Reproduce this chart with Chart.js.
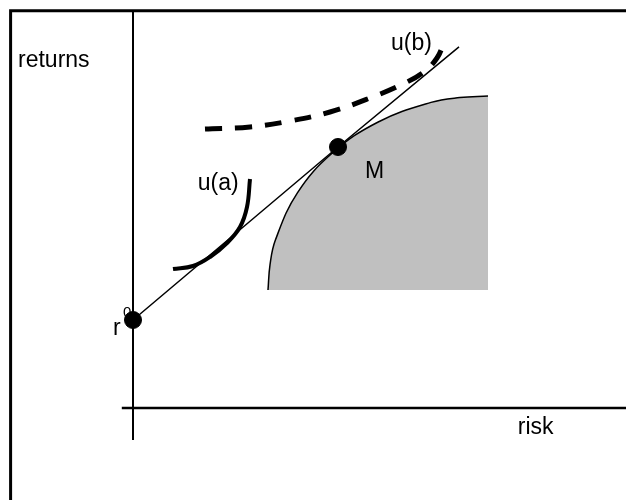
<!DOCTYPE html>
<html>
<head>
<meta charset="utf-8">
<script src="https://cdn.jsdelivr.net/npm/chart.js@4/dist/chart.umd.min.js"></script>
<style>
  body{margin:0;background:#fff;}
  canvas{display:block;}
</style>
</head>
<body>
<canvas id="myChart" width="626" height="500"></canvas>
<script>
/**
 * values (risk on x, returns on y, axes cross at 0,0)
 */
var frameRisk    = [-3.06, -3.06, 12.4];
var frameReturns = [-2.5, 9.93, 9.93];

var axisYRisk    = [0, 0];
var axisYReturns = [9.9, -0.8];
var axisXRisk    = [-0.28, 12.4];
var axisXReturns = [0, 0];

// efficient frontier (upper edge of the grey set)
var frontierRisk    = [3.375, 3.425, 3.56, 4.11, 4.99, 6.13, 7.45, 8.17, 8.875];
var frontierReturns = [2.95, 3.58, 4.2, 5.38, 6.38, 7.15, 7.64, 7.76, 7.8];
var frontierFloor   = 2.95;

// capital market line r0 -> M -> beyond
var cmlRisk    = [0, 5.125, 8.15];
var cmlReturns = [2.2, 6.525, 9.03];

// indifference curves
var uaRisk    = [1.0, 1.5, 1.925, 2.35, 2.675, 2.85, 2.925];
var uaReturns = [3.475, 3.55, 3.775, 4.125, 4.525, 5.025, 5.725];
var ubRisk    = [1.8, 2.925, 3.925, 4.925, 5.925, 6.8, 7.3, 7.6, 7.775];
var ubReturns = [6.975, 7.025, 7.175, 7.4, 7.75, 8.125, 8.425, 8.75, 9.125];

// the two marked points: r0 and M
var dotRisk    = [0, 5.125];
var dotReturns = [2.2, 6.525];

// text labels
var labelText = ["returns", "u(b)", "u(a)", "M", "r", "0", "risk"];
//

function pts(xs, ys){
    var out = [];
    for(var i = 0; i < xs.length; i++)
        out.push({x: xs[i], y: ys[i]});
    return out;
}

// where the labels go (left edge / baseline, in chart units) and font size
var labelSpots = [
    [-2.875, 8.525, 23],
    [6.45, 8.95, 23],
    [1.62, 5.45, 23],
    [5.8, 5.75, 23],
    [-0.5, 1.83, 23],
    [-0.25, 2.28, 15],
    [9.62, -0.65, 23]
];

var labelPlugin = {
    id: "labels",
    afterDraw: function(chart){
        var c = chart.ctx;
        var sx = chart.scales.x, sy = chart.scales.y;
        c.save();
        c.fillStyle = "#000";
        c.textBaseline = "alphabetic";
        for(var i = 0; i < labelText.length; i++){
            c.font = labelSpots[i][2] + "px 'Liberation Sans', Arial, sans-serif";
            c.fillText(labelText[i], sx.getPixelForValue(labelSpots[i][0]), sy.getPixelForValue(labelSpots[i][1]));
        }
        c.restore();
    }
};

var ctx = document.getElementById("myChart");

var data = {
    datasets: [
        {
            data: pts(dotRisk, dotReturns),
            showLine: false,
            pointRadius: 8.5,
            pointBackgroundColor: "#000",
            pointBorderColor: "#000",
            clip: false,
            order: 1
        },
        {
            data: pts(ubRisk, ubReturns),
            showLine: true,
            borderColor: "#000",
            borderWidth: 5,
            borderDash: [17, 13],
            borderCapStyle: "butt",
            tension: 0.4,
            pointRadius: 0,
            order: 2
        },
        {
            data: pts(uaRisk, uaReturns),
            showLine: true,
            borderColor: "#000",
            borderWidth: 4,
            tension: 0.4,
            pointRadius: 0,
            order: 3
        },
        {
            data: pts(cmlRisk, cmlReturns),
            showLine: true,
            borderColor: "#000",
            borderWidth: 1.5,
            tension: 0,
            pointRadius: 0,
            order: 4
        },
        {
            data: pts(axisYRisk, axisYReturns),
            showLine: true,
            borderColor: "#000",
            borderWidth: 2,
            pointRadius: 0,
            order: 6
        },
        {
            data: pts(axisXRisk, axisXReturns),
            showLine: true,
            borderColor: "#000",
            borderWidth: 2.5,
            pointRadius: 0,
            clip: false,
            order: 6
        },
        {
            data: pts(frameRisk, frameReturns),
            showLine: true,
            borderColor: "#000",
            borderWidth: 3,
            pointRadius: 0,
            clip: false,
            order: 7
        },
        {
            data: pts(frontierRisk, frontierReturns),
            showLine: true,
            borderColor: "#000",
            borderWidth: 1.5,
            backgroundColor: "#c0c0c0",
            fill: {value: frontierFloor},
            tension: 0.4,
            pointRadius: 0,
            order: 10
        }
    ]
};

var myChart = new Chart(ctx, {
    type: "scatter",
    data: data,
    plugins: [labelPlugin],
    options: {
        responsive: false,
        animation: false,
        layout: {padding: 0, autoPadding: false},
        plugins: {legend: {display: false}, tooltip: {enabled: false}},
        scales: {
            x: {type: "linear", min: -3.325, max: 12.325, display: false},
            y: {type: "linear", min: -2.3, max: 10.2, display: false}
        }
    }
});
</script>
</body>
</html>
